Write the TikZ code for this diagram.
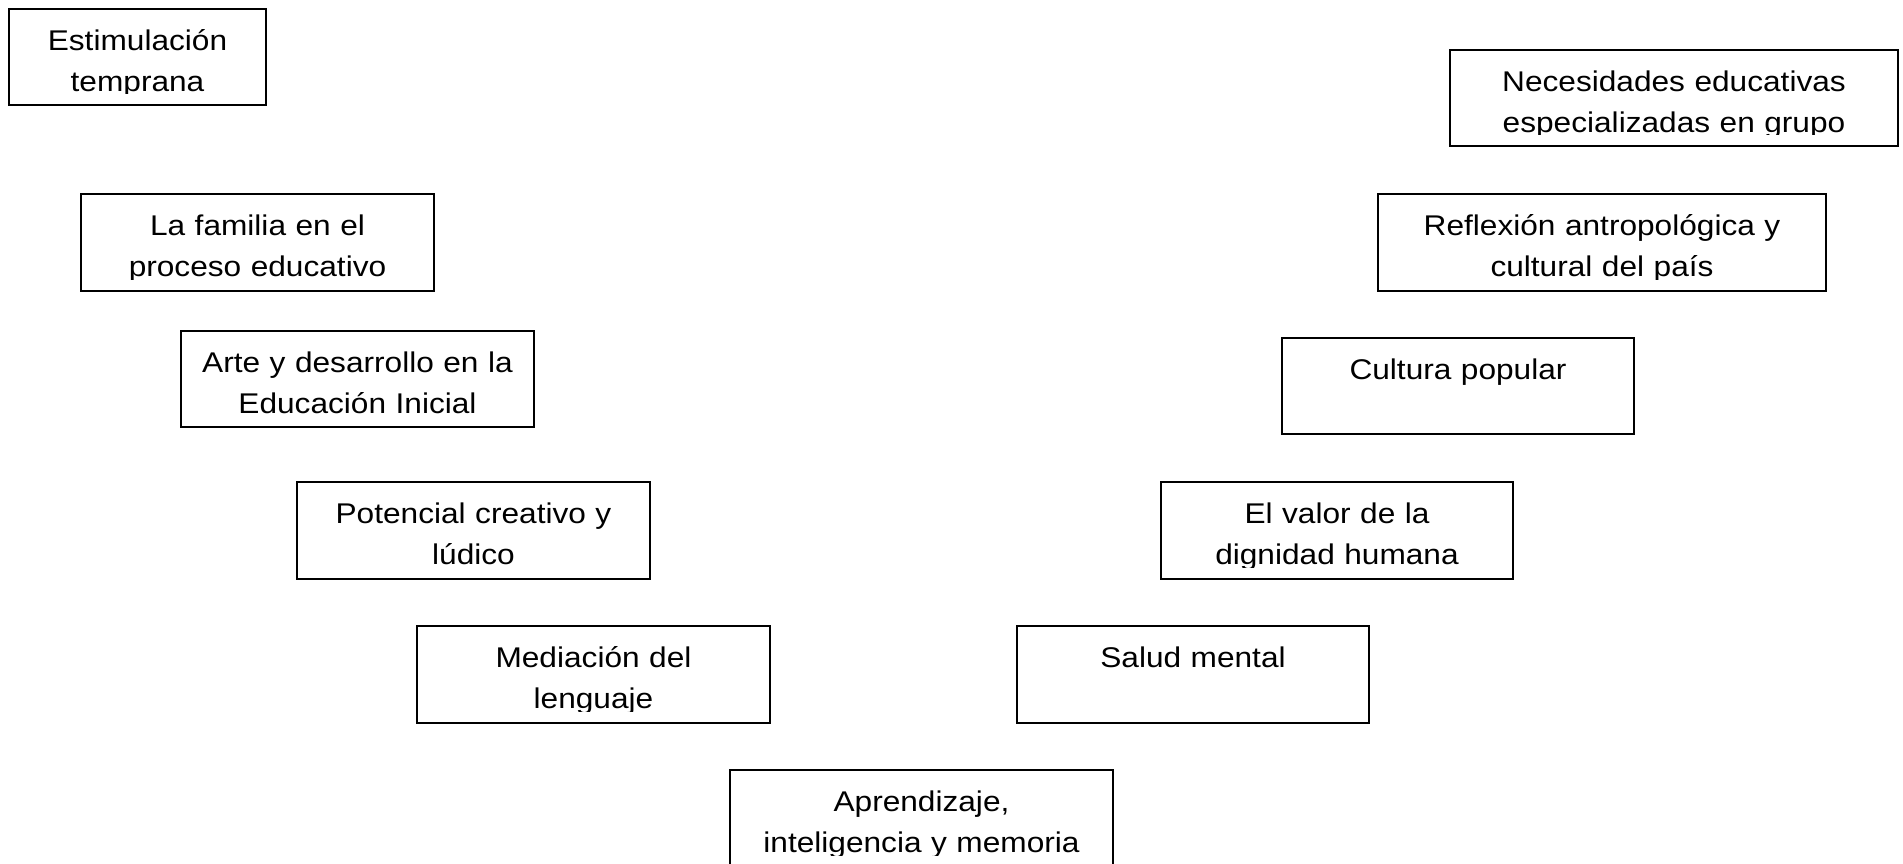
\documentclass[tikz,border=0pt]{standalone}
\usepackage{fontspec}
\setmainfont{Liberation Sans}[FakeStretch=1.11]
\begin{document}
\begin{tikzpicture}[x=1pt,y=-1pt,
  marco/.style={draw=black,line width=1.5pt,inner sep=0pt,outer sep=0pt,anchor=north west},
  texto/.style={inner sep=0pt,align=center,anchor=base,font=\fontsize{28.5}{41}\selectfont}]
\useasboundingbox (0,0) rectangle (1903,863);
\clip (0,0) rectangle (1903,863);
\foreach \n/\xa/\ya/\xb/\yb/\t in {
  est/9/9/266/105/{Estimulación\\temprana},
  fam/81/194/434/291/{La familia en el\\proceso educativo},
  arte/181/331/534/427/{Arte y desarrollo en la\\Educación Inicial},
  pot/297/482/650/579/{Potencial creativo y\\lúdico},
  med/417/626/770/723/{Mediación del\\lenguaje},
  apr/730/770/1113/867/{Aprendizaje,\\inteligencia y memoria},
  sal/1017/626/1369/723/{Salud mental},
  val/1161/482/1513/579/{El valor de la\\dignidad humana},
  cul/1282/338/1634/434/{Cultura popular},
  ref/1378/194/1826/291/{Reflexión antropológica y\\cultural del país},
  nec/1450/50/1898/146/{Necesidades educativas\\especializadas en grupo}}
{
  \node[marco,minimum width={(\xb-\xa)*1pt},minimum height={(\yb-\ya)*1pt}] (\n) at (\xa,\ya) {};
  \begin{scope}
    \clip (\xa,\ya) rectangle (\xb,{\yb-12});
    \node[texto,text width={(\xb-\xa)*1pt}] (\n-t) at ({(\xa+\xb)/2},{\ya+41}) {\t};
  \end{scope}
}
\end{tikzpicture}
\end{document}
